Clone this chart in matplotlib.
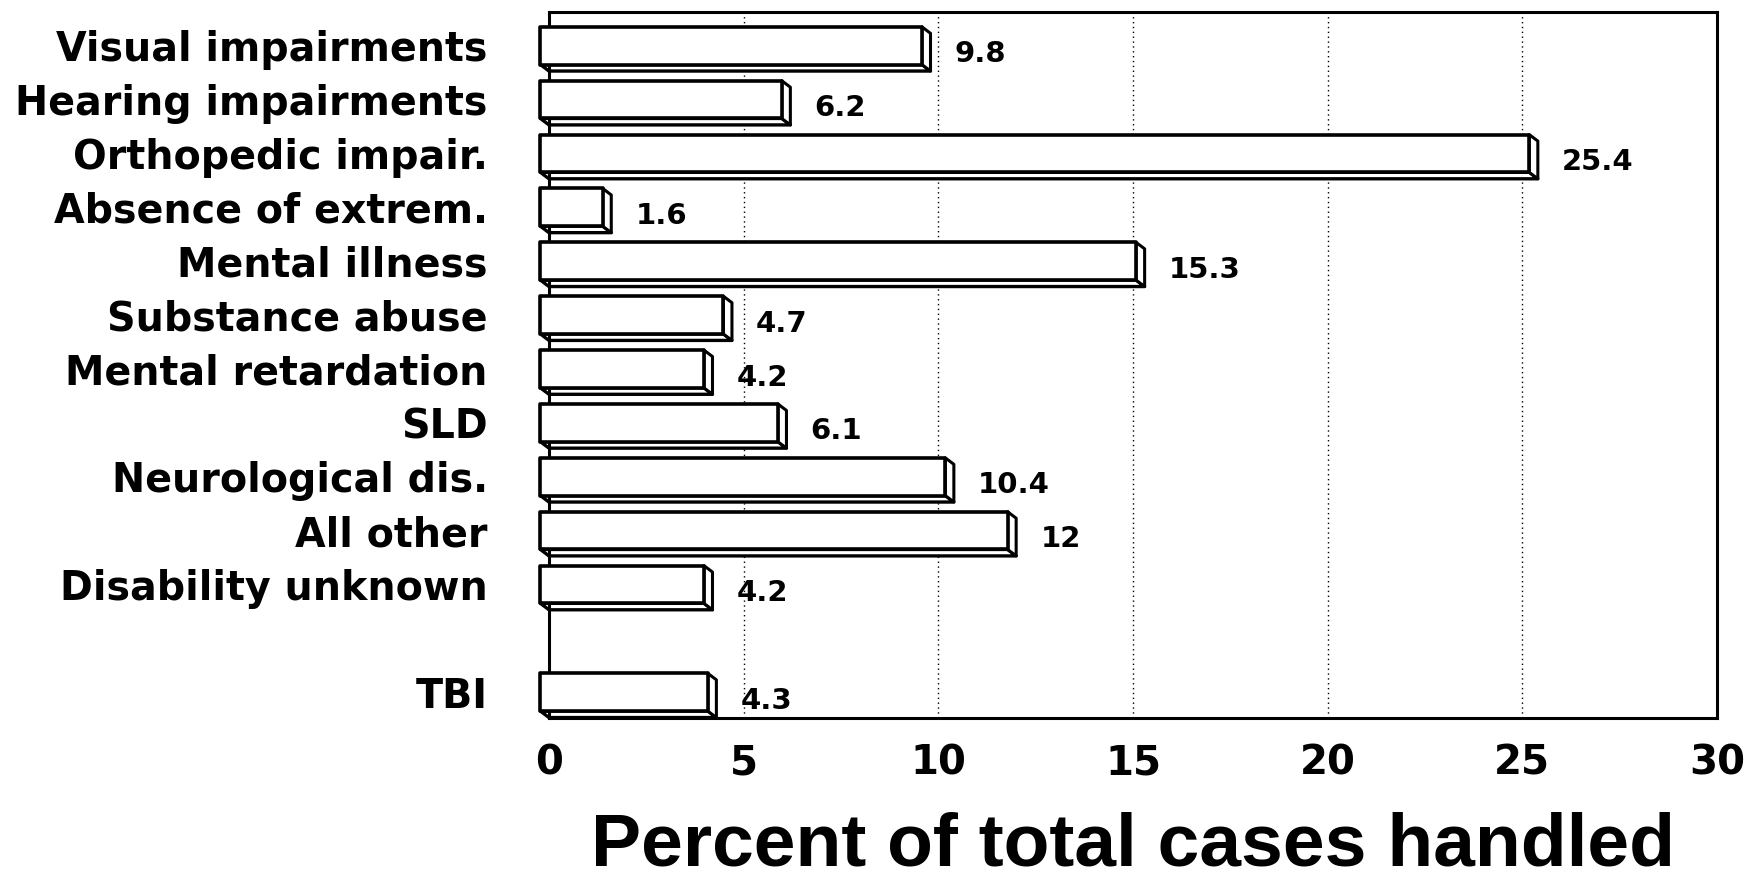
import matplotlib
matplotlib.use("Agg")
import matplotlib.pyplot as plt
from matplotlib.patches import Polygon

categories = ["Visual impairments", "Hearing impairments", "Orthopedic impair.",
              "Absence of extrem.", "Mental illness", "Substance abuse",
              "Mental retardation", "SLD", "Neurological dis.", "All other",
              "Disability unknown", "TBI"]
values = [9.8, 6.2, 25.4, 1.6, 15.3, 4.7, 4.2, 6.1, 10.4, 12, 4.2, 4.3]
value_labels = ["9.8", "6.2", "25.4", "1.6", "15.3", "4.7", "4.2", "6.1", "10.4", "12", "4.2", "4.3"]
positions = [0, 1, 2, 3, 4, 5, 6, 7, 8, 9, 10, 12]
xticks = [0, 5, 10, 15, 20, 25, 30]

fig = plt.figure(figsize=(17.5, 8.8), dpi=100)
ax = fig.add_axes([0.3137, 0.184, 0.6674, 0.802])

ax.set_xlim(0, 30)
ax.set_ylim(12.48, -0.62)

# dotted gridlines
for g in xticks[1:-1]:
    ax.axvline(g, color="black", lw=1.0, ls=(0, (1, 2.5)), zorder=1)

dx = 0.22   # depth in x units
dy = 0.12   # depth in y units
h = 0.70    # front face height

for p, v, lab in zip(positions, values, value_labels):
    yt = p - h / 2
    yb = p + h / 2
    front = Polygon([(-dx, yt), (v - dx, yt), (v - dx, yb), (-dx, yb)], closed=True,
                    facecolor="white", edgecolor="black", lw=2.6, zorder=3, clip_on=False,
                    joinstyle="round")
    bottom = Polygon([(-dx, yb), (v - dx, yb), (v, yb + dy), (0, yb + dy)], closed=True,
                     facecolor="white", edgecolor="black", lw=2.4, zorder=2, clip_on=False,
                     joinstyle="round")
    side = Polygon([(v - dx, yt), (v, yt + dy), (v, yb + dy), (v - dx, yb)], closed=True,
                   facecolor="white", edgecolor="black", lw=2.2, zorder=2, clip_on=False,
                   joinstyle="round")
    ax.add_patch(bottom)
    ax.add_patch(side)
    ax.add_patch(front)
    ax.text(v + 0.62, p + 0.16, lab, ha="left", va="center",
            fontsize=21, fontweight="bold", family="DejaVu Sans", zorder=4)

ax.set_yticks(positions)
ax.set_yticklabels(categories, fontsize=28.5, fontweight="bold", family="DejaVu Sans")
ax.set_xticks(xticks)
ax.set_xticklabels([str(t) for t in xticks], fontsize=29, fontweight="bold", family="DejaVu Sans")
ax.tick_params(axis="y", length=0, pad=44)
ax.tick_params(axis="x", length=0, pad=18)

for s in ax.spines.values():
    s.set_linewidth(2.2)
    s.set_color("black")

ax.set_xlabel("Percent of total cases handled", fontsize=54, fontweight="bold",
              family="Liberation Sans", va="bottom")
ax.xaxis.set_label_coords(0.5, -162.0 / 706.0)

fig.savefig("out.png", dpi=100, facecolor="white")
